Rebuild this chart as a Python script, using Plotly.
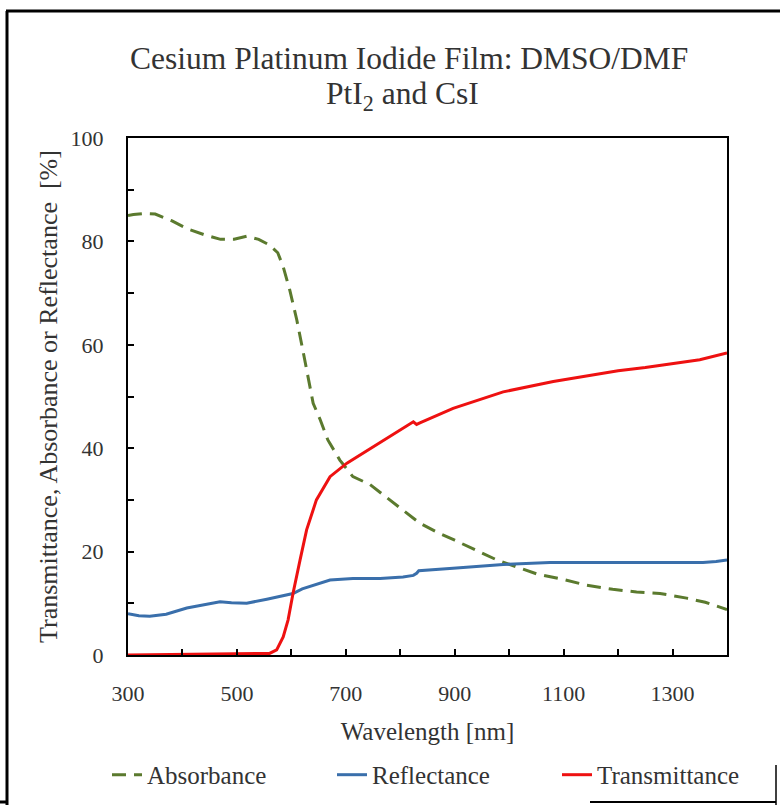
import plotly.graph_objects as go

# ---------------- data ----------------
abs_wl = [300, 310, 330, 350, 380, 410, 440, 470, 495, 518, 540, 560, 575, 585, 597, 610,
          621, 631, 640, 653, 667, 689, 713, 744, 763, 805, 836, 870, 900, 940, 977, 1020,
          1050, 1100, 1142, 1190, 1234, 1277, 1326, 1360, 1393, 1400]
abs_v = [85.0, 85.2, 85.4, 85.3, 84.0, 82.4, 81.3, 80.4, 80.4, 81.0, 80.4, 79.3, 77.8, 75.1,
         70.6, 64.8, 59.0, 53.2, 48.7, 45.5, 41.6, 37.7, 34.5, 33.0, 31.5, 28.0, 25.5, 23.6,
         22.2, 20.2, 18.4, 16.8, 15.7, 14.6, 13.5, 12.7, 12.2, 11.9, 11.0, 10.2, 9.1, 8.8]

refl_wl = [300, 320, 340, 370, 408, 440, 469, 490, 518, 555, 580, 603, 620, 640, 671, 713,
           763, 805, 824, 830, 834, 897, 950, 989, 1075, 1200, 1356, 1380, 1400]
refl_v = [8.0, 7.6, 7.5, 7.9, 9.1, 9.8, 10.3, 10.1, 10.0, 10.8, 11.3, 11.9, 12.8, 13.5,
          14.5, 14.8, 14.8, 15.1, 15.4, 15.8, 16.3, 16.8, 17.2, 17.5, 17.9, 17.9, 17.9,
          18.1, 18.4]

trans_wl = [300, 350, 400, 450, 500, 540, 560, 573, 585, 594, 603, 616, 628, 646, 671, 702,
            740, 781, 824, 830, 836, 897, 989, 1081, 1150, 1200, 1250, 1300, 1350, 1400]
trans_v = [0.0, 0.05, 0.15, 0.2, 0.2, 0.2, 0.3, 1.0, 3.5, 6.8, 11.9, 18.4, 24.2, 30.0,
           34.5, 37.1, 39.6, 42.2, 45.1, 44.6, 44.9, 47.7, 50.9, 52.9, 54.2, 55.0, 55.6,
           56.3, 57.1, 58.4]

title_lines = ["Cesium Platinum Iodide Film: DMSO/DMF", "PtI<sub>2</sub> and CsI"]
x_title = "Wavelength [nm]"
y_title = "Transmittance, Absorbance or Reflectance  [%]"

FONT = "Liberation Serif, serif"
TXT = "#333333"

fig = go.Figure()
fig.add_trace(go.Scatter(x=abs_wl, y=abs_v, name="Absorbance", mode="lines",
                         line=dict(color="#5b7a2e", width=3, dash="14px,8px")))
fig.add_trace(go.Scatter(x=refl_wl, y=refl_v, name="Reflectance", mode="lines",
                         line=dict(color="#3a6fab", width=3)))
fig.add_trace(go.Scatter(x=trans_wl, y=trans_v, name="Transmittance", mode="lines",
                         line=dict(color="#ee1111", width=3)))

axis_common = dict(showline=True, linecolor="black", linewidth=2, mirror=True,
                   ticks="inside", ticklen=6, tickwidth=2, tickcolor="black",
                   showgrid=False, zeroline=False, automargin=False,
                   tickfont=dict(family=FONT, size=22, color=TXT))

fig.update_layout(
    width=780, height=805,
    margin=dict(l=128, r=53, t=138, b=150, autoexpand=False),
    paper_bgcolor="white", plot_bgcolor="white",
    font=dict(family=FONT, color=TXT),
    xaxis=dict(range=[300, 1400], tick0=300, dtick=200,
               minor=dict(dtick=100, ticks="inside", ticklen=6, tickwidth=2,
                          tickcolor="black", showgrid=False),
               ticklabelstandoff=18,
               title=dict(text=x_title, font=dict(family=FONT, size=25, color=TXT),
                          standoff=17),
               **axis_common),
    yaxis=dict(range=[0, 100], tick0=0, dtick=20,
               minor=dict(dtick=10, ticks="inside", ticklen=6, tickwidth=2,
                          tickcolor="black", showgrid=False),
               ticklabelstandoff=18,
               title=dict(text=y_title, font=dict(family=FONT, size=26, color=TXT),
                          standoff=5),
               **axis_common),
    legend=dict(orientation="h", x=(107 - 128) / 599, xanchor="left",
                y=-0.232, yanchor="middle",
                font=dict(family=FONT, size=25, color=TXT), bgcolor="rgba(0,0,0,0)",
                entrywidth=180, entrywidthmode="pixels"),
    showlegend=True,
)

# title lines as annotations (paper coords derived from pixel rows)
py = lambda p: (655 - p) / 517
px = lambda p: (p - 128) / 599
for txt, row, col in zip(title_lines, [58, 96], [409, 402]):
    fig.add_annotation(text=txt, xref="paper", yref="paper", x=px(col), y=py(row),
                       xanchor="center", yanchor="middle", showarrow=False,
                       font=dict(family=FONT, size=31.5, color=TXT))

# border artifacts of the original screenshot
shapes = [
    dict(type="line", xref="paper", yref="paper", x0=px(7), x1=px(7), y0=py(11), y1=py(805),
         line=dict(color="black", width=3)),
    dict(type="line", xref="paper", yref="paper", x0=px(6), x1=px(780), y0=py(11), y1=py(11),
         line=dict(color="black", width=3)),
    dict(type="line", xref="paper", yref="paper", x0=px(0), x1=px(7), y0=py(802), y1=py(802),
         line=dict(color="black", width=3)),
    dict(type="line", xref="paper", yref="paper", x0=px(590), x1=px(776), y0=py(802), y1=py(802),
         line=dict(color="black", width=2)),
    dict(type="line", xref="paper", yref="paper", x0=px(776), x1=px(776), y0=py(765), y1=py(805),
         line=dict(color="black", width=1.5)),
]
fig.update_layout(shapes=shapes)

fig.write_html("out.html")
